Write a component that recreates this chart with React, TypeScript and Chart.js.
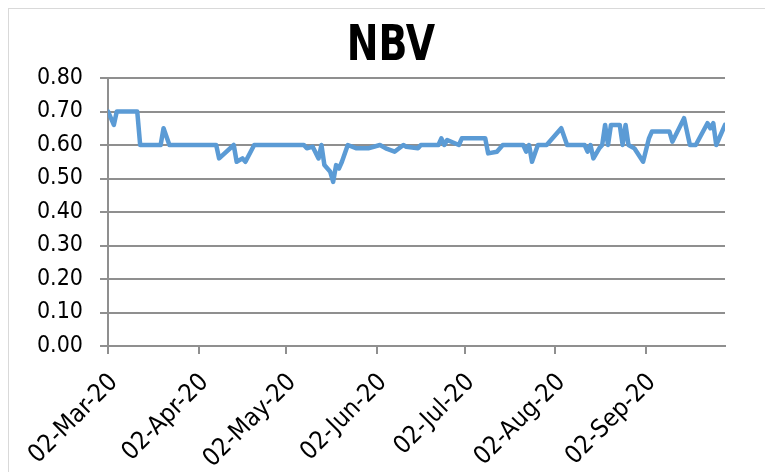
import React, { useEffect, useRef } from "react";
import { Chart, registerables } from "chart.js";

Chart.register(...registerables);

const chartTitle = "NBV";

const dates = [
  "2020-03-02", "2020-03-04", "2020-03-05", "2020-03-12", "2020-03-13", "2020-03-20",
  "2020-03-21", "2020-03-23", "2020-04-08", "2020-04-09", "2020-04-14", "2020-04-15",
  "2020-04-17", "2020-04-18", "2020-04-21", "2020-05-08", "2020-05-09", "2020-05-11",
  "2020-05-13", "2020-05-14", "2020-05-15", "2020-05-17", "2020-05-18", "2020-05-19",
  "2020-05-20", "2020-05-21", "2020-05-23", "2020-05-26", "2020-05-30", "2020-06-03",
  "2020-06-05", "2020-06-08", "2020-06-11", "2020-06-12", "2020-06-16", "2020-06-17",
  "2020-06-23", "2020-06-24", "2020-06-25", "2020-06-26", "2020-06-30", "2020-07-01",
  "2020-07-09", "2020-07-10", "2020-07-13", "2020-07-15", "2020-07-22", "2020-07-23",
  "2020-07-24", "2020-07-25", "2020-07-27", "2020-07-30", "2020-08-04", "2020-08-06",
  "2020-08-12", "2020-08-13", "2020-08-14", "2020-08-15", "2020-08-17", "2020-08-18",
  "2020-08-19", "2020-08-20", "2020-08-21", "2020-08-24", "2020-08-25", "2020-08-26",
  "2020-08-27", "2020-08-29", "2020-09-01", "2020-09-03", "2020-09-04", "2020-09-10",
  "2020-09-11", "2020-09-15", "2020-09-17", "2020-09-19", "2020-09-23", "2020-09-24",
  "2020-09-25", "2020-09-26", "2020-09-29",
];

const nbvValues = [
  0.70, 0.66, 0.70, 0.70, 0.60, 0.60,
  0.65, 0.60, 0.60, 0.56, 0.60, 0.55,
  0.56, 0.55, 0.60, 0.60, 0.59, 0.595,
  0.56, 0.60, 0.54, 0.52, 0.49, 0.54,
  0.53, 0.55, 0.60, 0.59, 0.59, 0.60,
  0.59, 0.58, 0.60, 0.595, 0.59, 0.60,
  0.60, 0.62, 0.60, 0.615, 0.60, 0.62,
  0.62, 0.575, 0.58, 0.60, 0.60, 0.58,
  0.60, 0.55, 0.60, 0.60, 0.65, 0.60,
  0.60, 0.58, 0.60, 0.56, 0.59, 0.60,
  0.66, 0.60, 0.66, 0.66, 0.60, 0.66,
  0.60, 0.59, 0.55, 0.62, 0.64, 0.64,
  0.61, 0.68, 0.60, 0.60, 0.665, 0.65,
  0.665, 0.60, 0.66,
];

const tickDates = [
  "2020-03-02", "2020-04-02", "2020-05-02", "2020-06-02", "2020-07-02", "2020-08-02", "2020-09-02",
];
const tickLabels = ["02-Mar-20", "02-Apr-20", "02-May-20", "02-Jun-20", "02-Jul-20", "02-Aug-20", "02-Sep-20"];

const startDate = "2020-03-02";
const endDate = "2020-09-29";

const dayOf = (d: string) => Math.round((Date.parse(d) - Date.parse(startDate)) / 86400000);

const FONT = "'Liberation Sans Narrow', 'DejaVu Sans Condensed', 'DejaVu Sans', sans-serif";
const GRID = "#8f8f8f";

const titlePlugin = {
  id: "narrowTitle",
  afterDraw(chart: any) {
    const ctx = chart.ctx;
    ctx.save();
    ctx.font = `bold 49px ${FONT}`;
    ctx.fillStyle = "#000";
    ctx.textAlign = "center";
    ctx.textBaseline = "alphabetic";
    ctx.translate(chart.width / 2, 51);
    ctx.scale(0.86, 1);
    ctx.fillText(chartTitle, 0, 0);
    ctx.restore();
  },
};

export default function App() {
  const ref = useRef<HTMLCanvasElement | null>(null);

  useEffect(() => {
    if (!ref.current) return;
    const tickDays = tickDates.map(dayOf);
    const chart = new Chart(ref.current, {
      type: "line",
      data: {
        datasets: [
          {
            label: chartTitle,
            data: dates.map((d, i) => ({ x: dayOf(d), y: nbvValues[i] })),
            borderColor: "#5B9BD5",
            backgroundColor: "#5B9BD5",
            borderWidth: 4.5,
            pointRadius: 0,
            tension: 0,
            borderJoinStyle: "round",
            borderCapStyle: "round",
          },
        ],
      },
      plugins: [titlePlugin],
      options: {
        responsive: false,
        animation: false,
        layout: { padding: { left: 0, right: 48, top: 69, bottom: 0 } },
        plugins: {
          legend: { display: false },
          tooltip: { enabled: false },
          title: { display: false },
        },
        scales: {
          x: {
            type: "linear",
            min: 0,
            max: dayOf(endDate),
            afterBuildTicks: (scale: any) => {
              scale.ticks = tickDays.map((v) => ({ value: v }));
            },
            afterFit: (scale: any) => {
              scale.height = 126;
            },
            ticks: {
              autoSkip: false,
              minRotation: 45,
              maxRotation: 45,
              padding: 14,
              labelOffset: 6,
              color: "#000",
              font: { family: FONT, size: 25 },
              callback: (v: any) => {
                const idx = tickDays.indexOf(Number(v));
                return idx >= 0 ? tickLabels[idx] : "";
              },
            },
            grid: {
              drawOnChartArea: false,
              drawTicks: true,
              tickLength: 8,
              color: GRID,
              lineWidth: 2,
            },
            border: { color: GRID, width: 2 },
          },
          y: {
            min: 0,
            max: 0.8,
            afterFit: (scale: any) => {
              scale.width = 99;
            },
            ticks: {
              stepSize: 0.1,
              autoSkip: false,
              padding: 17,
              color: "#000",
              font: { family: FONT, size: 23 },
              callback: (v: any) => Number(v).toFixed(2),
            },
            grid: {
              color: GRID,
              lineWidth: 2,
              drawTicks: true,
              tickLength: 8,
            },
            border: { color: GRID, width: 2 },
          },
        },
      },
    });
    return () => chart.destroy();
  }, []);

  return (
    <div
      style={{
        width: 764,
        height: 463,
        borderLeft: "1px solid #d9d9d9",
        borderTop: "1px solid #d9d9d9",
      }}
    >
      <canvas ref={ref} width={764} height={463} style={{ display: "block" }} />
    </div>
  );
}
